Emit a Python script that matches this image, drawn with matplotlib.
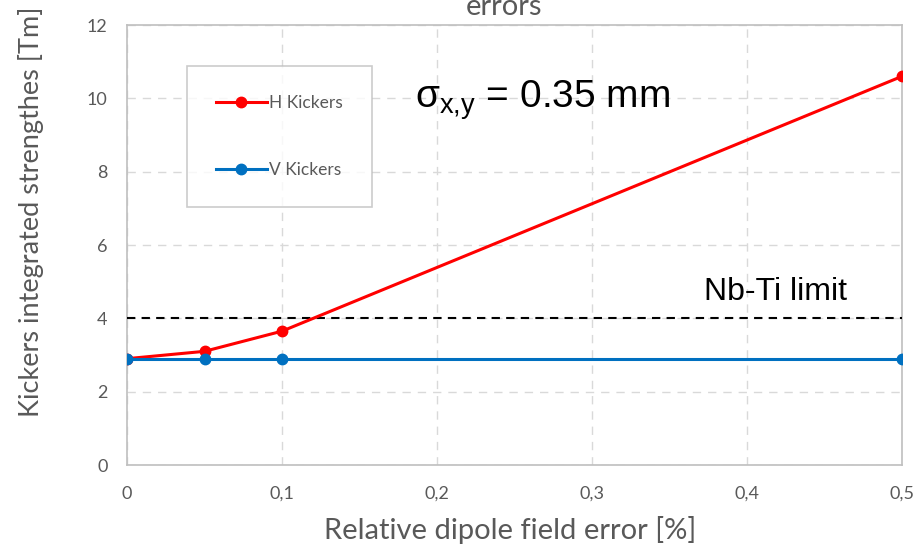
import matplotlib
matplotlib.use('Agg')
import matplotlib.pyplot as plt

# values
err = [0, 0.05, 0.1, 0.5]
h_kick = [2.9, 3.1, 3.65, 10.6]
v_kick = [2.9, 2.9, 2.9, 2.9]
nbti_limit = 4.0
xticks = [0, 0.1, 0.2, 0.3, 0.4, 0.5]
xtick_labels = ['0', '0,1', '0,2', '0,3', '0,4', '0,5']
yticks = [0, 2, 4, 6, 8, 10, 12]

gray = '#595959'
fig = plt.figure(figsize=(9.17, 5.49), dpi=100)
ax = fig.add_axes([127 / 917, 1 - 465 / 549, 775 / 917, 440 / 549])

ax.plot(err, h_kick, color='#ff0000', lw=2.2, marker='o', ms=7.5, label='H Kickers', zorder=4)
ax.plot(err, v_kick, color='#0070c0', lw=2.2, marker='o', ms=7.5, label='V Kickers', zorder=5)
ax.plot([0, 0.5], [nbti_limit, nbti_limit], color='black', ls=(0, (4, 3)), lw=1.5, zorder=3)

ax.set_xlim(0, 0.5)
ax.set_ylim(0, 12)
ax.set_xticks(xticks)
ax.set_xticklabels(xtick_labels)
ax.set_yticks(yticks)
ax.grid(True, color='#d9d9d9', ls=(0, (6, 5)), lw=1)
for s in ax.spines.values():
    s.set_color('#bfbfbf')
    s.set_linewidth(1.2)
ax.tick_params(length=0, colors=gray, labelsize=13)
ax.tick_params(axis='y', pad=14)
ax.tick_params(axis='x', pad=15)
for lab in ax.get_xticklabels() + ax.get_yticklabels():
    lab.set_family('Lato')

xl = ax.set_xlabel('Relative dipole field error [%]', family='Lato', fontsize=21, color=gray)
yl = ax.set_ylabel('Kickers integrated strengthes [Tm]', family='Lato', fontsize=19.5, color=gray)
xl.set_va('center')
yl.set_va('center')
ax.xaxis.set_label_coords(0.494, -0.148)
ax.yaxis.set_label_coords(-0.124, 0.575)

leg = ax.legend(loc='upper left', bbox_to_anchor=(0.077, 0.907), frameon=True,
                fancybox=False, edgecolor='#bfbfbf', labelspacing=2.9,
                borderpad=1.7, handlelength=2.9, handletextpad=0.15,
                borderaxespad=0, prop={'family': 'Lato', 'size': 12.5})
for t in leg.get_texts():
    t.set_color(gray)
leg.get_frame().set_linewidth(1.2)

ax.text(0.186, 9.75, r'$\mathregular{\sigma_{x{,}y}}$ = 0.35 mm', family='Liberation Sans',
        fontsize=28, va='baseline')
ax.text(0.372, 4.5, 'Nb-Ti limit', family='Liberation Sans', fontsize=23, va='baseline')

fig.text(504 / 917, 1 - 15 / 549, 'errors', ha='center', va='baseline', family='Lato',
         fontsize=21, color=gray)

fig.savefig('out.png', dpi=100)
